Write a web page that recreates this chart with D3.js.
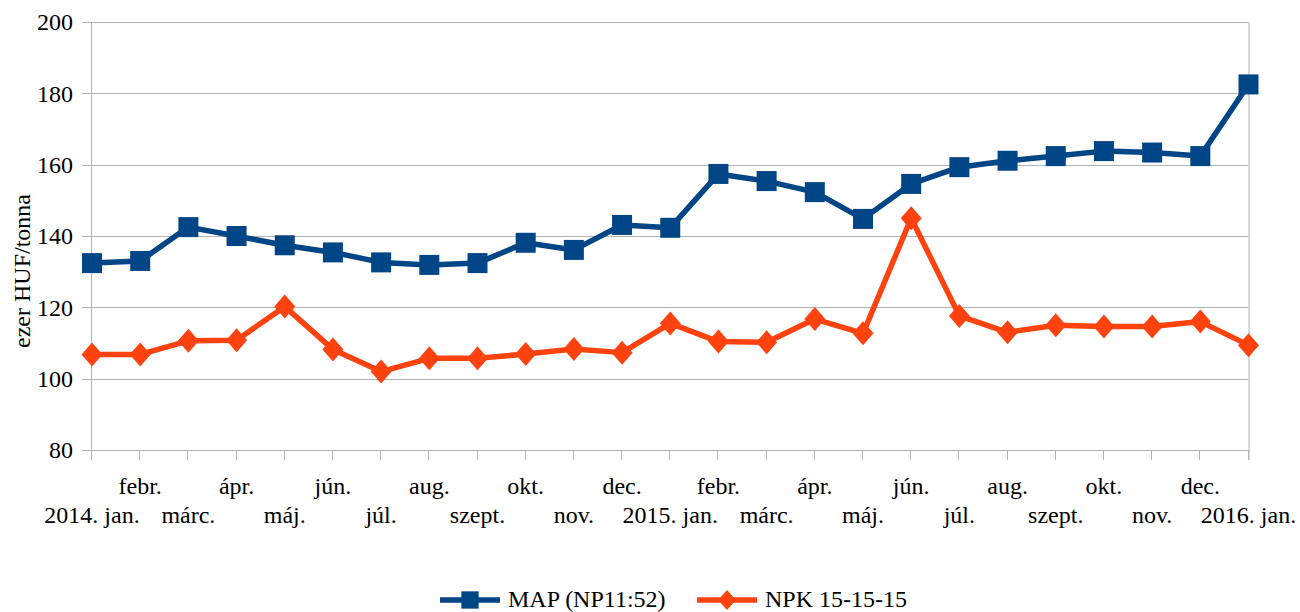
<!DOCTYPE html>
<html>
<head>
<meta charset="utf-8">
<script src="https://cdn.jsdelivr.net/npm/d3@7"></script>
<style>
  body { margin: 0; background: #fff; }
</style>
</head>
<body>
<svg id="chart" width="1300" height="612"></svg>
<script>
(function (d3) {
    'use strict';

    var months = ['2014. jan.', 'febr.', 'márc.', 'ápr.', 'máj.', 'jún.', 'júl.', 'aug.',
        'szept.', 'okt.', 'nov.', 'dec.', '2015. jan.', 'febr.', 'márc.', 'ápr.', 'máj.',
        'jún.', 'júl.', 'aug.', 'szept.', 'okt.', 'nov.', 'dec.', '2016. jan.'];
    var mapValues = [132.4, 133.0, 142.5, 140.0, 137.4, 135.4, 132.6, 131.9, 132.4, 138.1,
        136.1, 143.1, 142.3, 157.4, 155.4, 152.3, 144.8, 154.6, 159.3, 161.1, 162.4, 163.8,
        163.4, 162.4, 182.5];
    var npkValues = [106.8, 106.8, 110.6, 110.8, 120.2, 108.2, 102.0, 105.7, 105.7, 106.9,
        108.3, 107.3, 115.5, 110.4, 110.2, 116.7, 112.7, 145.0, 117.6, 113.0, 115.0, 114.6,
        114.6, 116.0, 109.4];
    var yTicks = [80, 100, 120, 140, 160, 180, 200];
    var seriesNames = ['MAP (NP11:52)', 'NPK 15-15-15'];
    var seriesColors = ['#004586', '#ff420e'];

    var left = 92, right = 1248.5, top = 22, bottom = 450;
    var svg = d3.select('#chart');
    var grid = '#b3b3b3';
    var serif = "'Liberation Serif', 'Times New Roman', Tinos, 'DejaVu Serif', serif";

    var x = d3.scalePoint().domain(d3.range(months.length)).range([left, right]);
    var y = d3.scaleLinear().domain([80, 200]).range([bottom, top]);

    // gridlines
    svg.append('g').selectAll('line')
        .data(yTicks).enter()
      .append('line')
        .attr('x1', left - 10).attr('x2', right)
        .attr('y1', function (d) { return Math.round(y(d)) + 0.5; })
        .attr('y2', function (d) { return Math.round(y(d)) + 0.5; })
        .style('stroke', grid).style('stroke-width', 1);

    // y labels
    svg.append('g').selectAll('text')
        .data(yTicks).enter()
      .append('text')
        .attr('x', 73)
        .attr('y', function (d) { return y(d); })
        .attr('dy', '0.35em')
        .attr('text-anchor', 'end')
        .style('font-family', serif)
        .style('font-size', '24px')
        .text(function (d) { return d; });

    // axis frame
    svg.append('line').attr('x1', left - 0.5).attr('x2', left - 0.5)
        .attr('y1', top).attr('y2', bottom + 10).style('stroke', grid);
    svg.append('line').attr('x1', right + 0.5).attr('x2', right + 0.5)
        .attr('y1', top).attr('y2', bottom + 10).style('stroke', grid);
    svg.append('g').selectAll('line')
        .data(d3.range(months.length)).enter()
      .append('line')
        .attr('x1', function (d) { return Math.round(x(d)) - 0.5; })
        .attr('x2', function (d) { return Math.round(x(d)) - 0.5; })
        .attr('y1', bottom).attr('y2', bottom + 10)
        .style('stroke', grid);

    // x labels, alternating rows
    svg.append('g').selectAll('text')
        .data(months).enter()
      .append('text')
        .attr('x', function (d, i) { return x(i); })
        .attr('y', function (d, i) { return i % 2 ? 494 : 523; })
        .attr('text-anchor', 'middle')
        .style('font-family', serif)
        .style('font-size', '24px')
        .text(function (d) { return d; });

    // axis title
    svg.append('text')
        .attr('transform', 'translate(30,271) rotate(-90)')
        .attr('text-anchor', 'middle')
        .style('font-family', serif)
        .style('font-size', '24px')
        .text('ezer HUF/tonna');

    var line = d3.line()
        .x(function (d, i) { return x(i); })
        .y(function (d) { return y(d); });

    var square = d3.symbol().type(d3.symbolSquare).size(400);
    var diamond = 'M0,-12L10.5,0L0,12L-10.5,0Z';

    function drawSeries(values, color, marker) {
        svg.append('path')
            .datum(values)
            .attr('d', line)
            .style('fill', 'none')
            .style('stroke', color)
            .style('stroke-width', 5.5)
            .style('stroke-linejoin', 'round');
        svg.append('g').selectAll('path')
            .data(values).enter()
          .append('path')
            .attr('transform', function (d, i) { return 'translate(' + x(i) + ',' + y(d) + ')'; })
            .attr('d', marker)
            .style('fill', color);
    }

    drawSeries(mapValues, seriesColors[0], square());
    drawSeries(npkValues, seriesColors[1], diamond);

    // legend
    var legendItems = [
        { name: seriesNames[0], color: seriesColors[0], x: 440, marker: d3.symbol().type(d3.symbolSquare).size(300)() },
        { name: seriesNames[1], color: seriesColors[1], x: 697, marker: 'M0,-10L9,0L0,10L-9,0Z' }
    ];
    var lg = svg.append('g').selectAll('g')
        .data(legendItems).enter()
      .append('g')
        .attr('transform', function (d) { return 'translate(' + d.x + ',600)'; });
    lg.append('line')
        .attr('x1', 0).attr('x2', 60)
        .style('stroke', function (d) { return d.color; })
        .style('stroke-width', 5.5);
    lg.append('path')
        .attr('transform', 'translate(30,0)')
        .attr('d', function (d) { return d.marker; })
        .style('fill', function (d) { return d.color; });
    lg.append('text')
        .attr('x', 68).attr('y', 7)
        .style('font-family', serif)
        .style('font-size', '24px')
        .text(function (d) { return d.name; });

}(window.d3));
</script>
</body>
</html>
